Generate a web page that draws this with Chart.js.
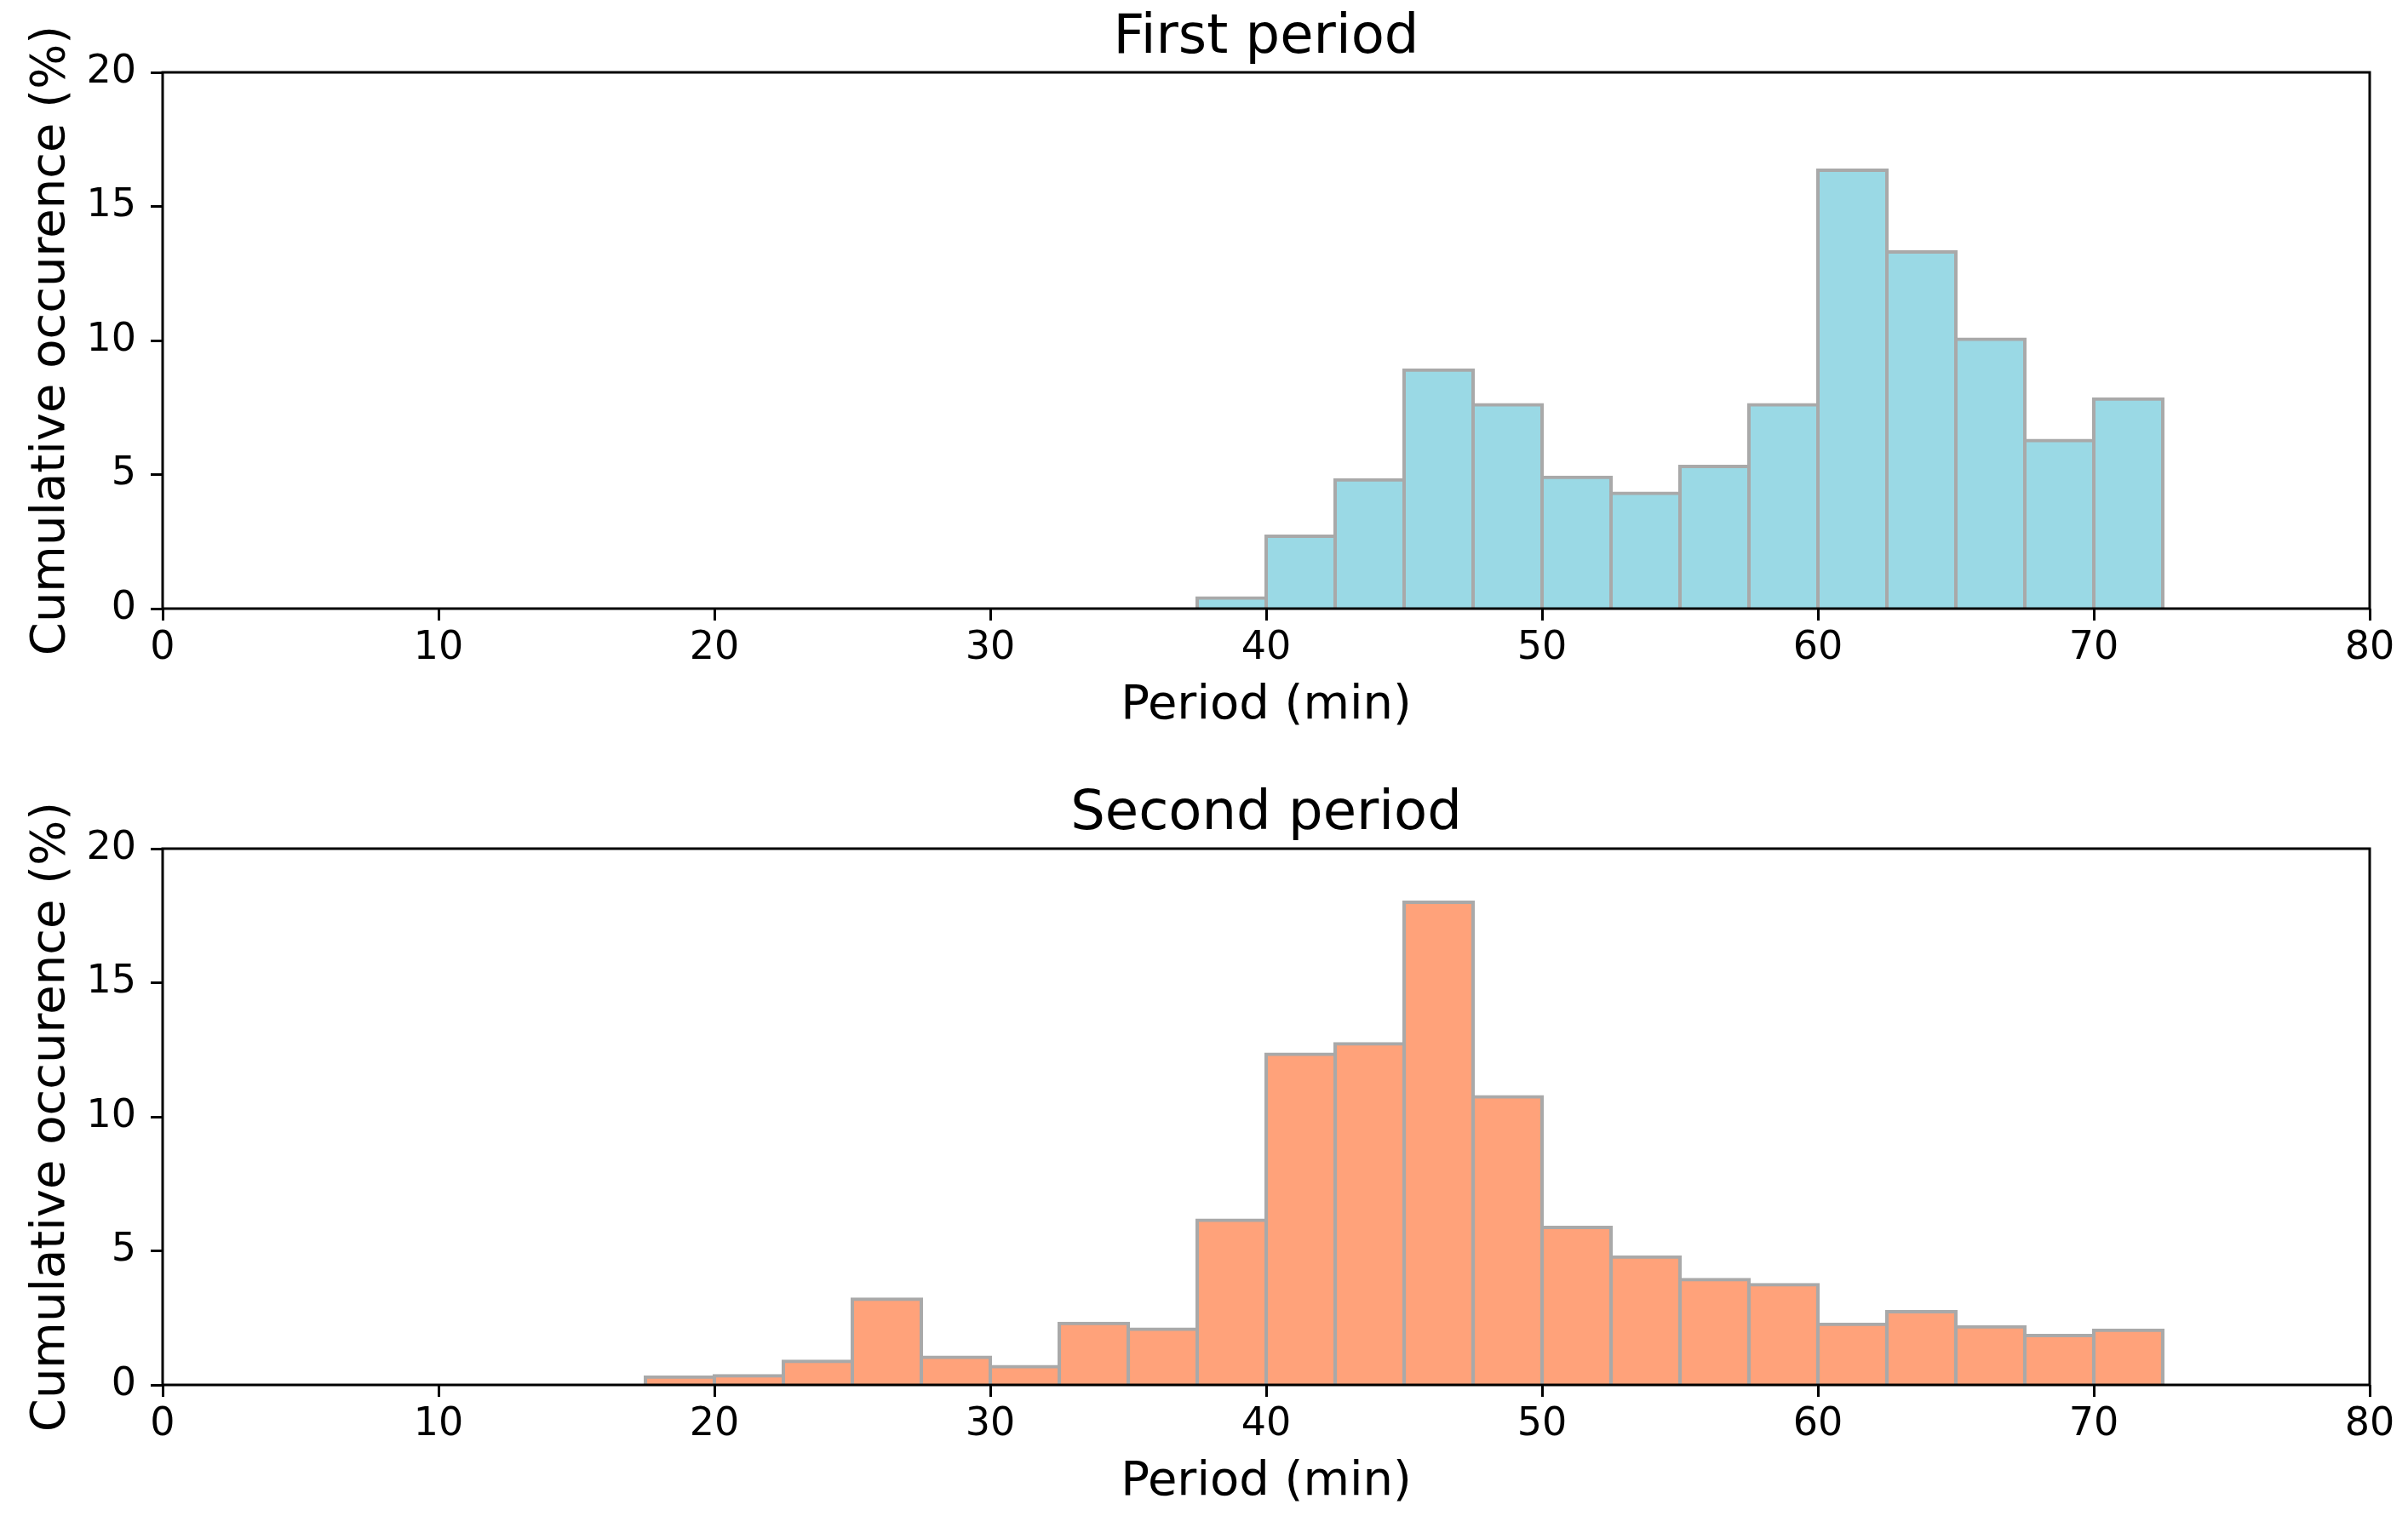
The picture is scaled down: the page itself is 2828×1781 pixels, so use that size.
<!DOCTYPE html>
<html>
<head>
<meta charset="utf-8">
<script src="https://cdn.jsdelivr.net/npm/chart.js@4.4.1/dist/chart.umd.min.js"></script>
<style>
  html, body { margin: 0; padding: 0; background: #fff; width: 2828px; height: 1781px; overflow: hidden; }
  canvas { position: absolute; left: 0; }
</style>
</head>
<body>
<canvas id="firstChart" width="2828" height="890" style="top:0px"></canvas>
<canvas id="secondChart" width="2828" height="890" style="top:912px"></canvas>
<script>
// Histogram bins (left edges, min) and percentages
const binWidth = 2.5;
const firstBins = [37.5, 40, 42.5, 45, 47.5, 50, 52.5, 55, 57.5, 60, 62.5, 65, 67.5, 70];
const firstValues = [0.4, 2.7, 4.8, 8.9, 7.6, 4.9, 4.3, 5.3, 7.6, 16.35, 13.3, 10.05, 6.27, 7.82];
const secondBins = [17.5, 20, 22.5, 25, 27.5, 30, 32.5, 35, 37.5, 40, 42.5, 45, 47.5, 50, 52.5, 55, 57.5, 60, 62.5, 65, 67.5, 70];
const secondValues = [0.29, 0.34, 0.88, 3.2, 1.03, 0.68, 2.29, 2.08, 6.14, 12.33, 12.72, 18.0, 10.75, 5.87, 4.77, 3.93, 3.74, 2.26, 2.73, 2.17, 1.84, 2.04];

const xMin = 0, xMax = 80, xStep = 10;
const yMin = 0, yMax = 20, yStep = 5;

const fontFamily = '"DejaVu Sans", sans-serif';

// box round the plot area (matplotlib spines) + title centred over the axes, not the canvas
const framePlugin = {
    id: 'frame',
    afterLayout(chart) {
        if (chart.titleBlock) {
            chart.titleBlock.left = chart.chartArea.left;
            chart.titleBlock.right = chart.chartArea.right;
        }
    },
    afterDraw(chart) {
        const { ctx, chartArea } = chart;
        ctx.save();
        ctx.strokeStyle = '#000';
        ctx.lineWidth = 3;
        ctx.strokeRect(chartArea.left, chartArea.top, chartArea.right - chartArea.left, chartArea.bottom - chartArea.top);
        ctx.restore();
    }
};

const makeChart = (canvasId, title, bins, values, color) => {
    const ctx = document.getElementById(canvasId);
    return new Chart(ctx, {
        type: 'bar',
        data: {
            datasets: [{
                data: bins.map((b, i) => ({ x: b + binWidth / 2, y: values[i] })),
                backgroundColor: color,
                borderColor: '#a9a9a9',
                borderWidth: 4,
                inflateAmount: 2,
                barPercentage: 1.0,
                categoryPercentage: 1.0
            }]
        },
        options: {
            responsive: false,
            animation: false,
            devicePixelRatio: 1,
            layout: { padding: { left: 0, right: 45, top: 0, bottom: 0 } },
            plugins: {
                legend: { display: false },
                tooltip: { enabled: false },
                title: {
                    display: true,
                    text: title,
                    color: '#000',
                    font: { family: fontFamily, size: 64, weight: 'normal' },
                    padding: { top: 7, bottom: 1.2 }
                }
            },
            scales: {
                x: {
                    type: 'linear',
                    min: xMin,
                    max: xMax,
                    offset: false,
                    afterFit: (scale) => { scale.height = 175; },
                    ticks: {
                        stepSize: xStep,
                        color: '#000',
                        padding: 5,
                        maxRotation: 0,
                        font: { family: fontFamily, size: 46 }
                    },
                    grid: { offset: false, drawOnChartArea: false, drawTicks: true, tickLength: 14, tickWidth: 3, tickColor: '#000' },
                    border: { display: false },
                    title: {
                        display: true,
                        text: 'Period (min)',
                        color: '#000',
                        font: { family: fontFamily, size: 56 },
                        padding: { top: 0, bottom: 27 }
                    }
                },
                y: {
                    min: yMin,
                    max: yMax,
                    afterFit: (scale) => { scale.width = 191; },
                    ticks: {
                        stepSize: yStep,
                        color: '#000',
                        padding: 17,
                        font: { family: fontFamily, size: 46 }
                    },
                    grid: { drawOnChartArea: false, drawTicks: true, tickLength: 14, tickWidth: 3, tickColor: '#000' },
                    border: { display: false },
                    title: {
                        display: true,
                        text: 'Cumulative occurence (%)',
                        color: '#000',
                        font: { family: fontFamily, size: 56 },
                        padding: { top: 27, bottom: 0 }
                    }
                }
            }
        },
        plugins: [framePlugin]
    });
};

makeChart('firstChart', 'First period', firstBins, firstValues, '#9ad9e5');
makeChart('secondChart', 'Second period', secondBins, secondValues, '#ffa27a');
</script>
</body>
</html>
